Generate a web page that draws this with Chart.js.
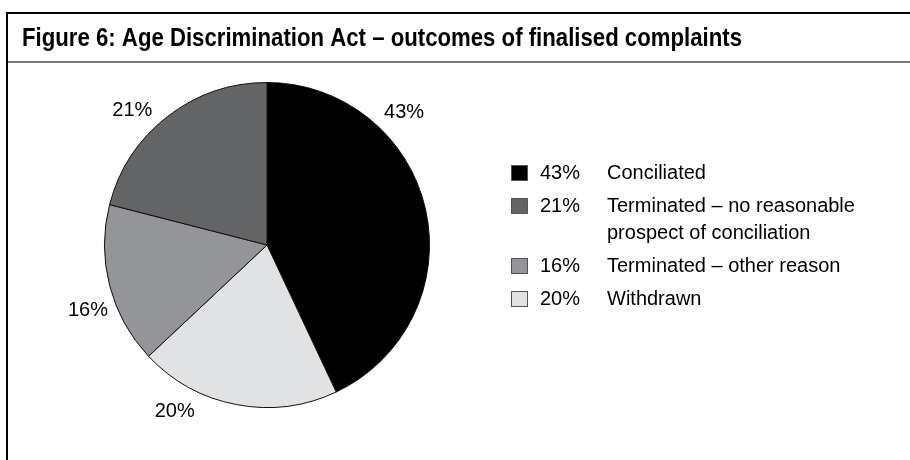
<!DOCTYPE html>
<html>
<head>
<meta charset="utf-8">
<script src="https://cdn.jsdelivr.net/npm/chart.js@4"></script>
<style>
  html, body { margin: 0; padding: 0; background: #fff; }
  #wrap { width: 910px; height: 460px; position: relative; }
</style>
</head>
<body>
<div id="wrap"><canvas id="pieChart" width="910" height="460"></canvas></div>
<script>
// slices in drawing order, clockwise from 12 o'clock
const categories = [
  "Conciliated",
  "Withdrawn",
  "Terminated – other reason",
  "Terminated – no reasonable prospect of conciliation"
];
const shares = [43, 20, 16, 21];
const sliceColors = ["#000000", "#e1e2e4", "#939598", "#636466"];

// legend rows: which slice, and how the label wraps
const legendOrder = [0, 3, 2, 1];
const legendLines = [
  ["Conciliated"],
  ["Terminated – no reasonable", "prospect of conciliation"],
  ["Terminated – other reason"],
  ["Withdrawn"]
];

// where each outside percentage label sits (degrees clockwise from top)
const labelAngles = [46, 209, 250, 315];

const TITLE = "Figure 6: Age Discrimination Act – outcomes of finalised complaints";
const BODY_FONT = "20px 'Liberation Sans', Arial, sans-serif";
const TITLE_FONT = "bold 26px 'Liberation Sans', Arial, sans-serif";
const TITLE_WIDTH = 720; // heading is set in a condensed cut, squeeze to fit

const framePlugin = {
  id: "frame",
  beforeDraw(chart) {
    const ctx = chart.ctx;
    ctx.save();
    ctx.fillStyle = "#fff";
    ctx.fillRect(0, 0, chart.width, chart.height);
    // box outline
    ctx.strokeStyle = "#000";
    ctx.lineWidth = 2;
    ctx.beginPath();
    ctx.moveTo(chart.width, 13);
    ctx.lineTo(7, 13);
    ctx.lineTo(7, chart.height);
    ctx.stroke();
    // rule under the heading
    ctx.strokeStyle = "#7a7a7a";
    ctx.lineWidth = 2;
    ctx.beginPath();
    ctx.moveTo(8, 62);
    ctx.lineTo(chart.width, 62);
    ctx.stroke();
    // heading
    ctx.fillStyle = "#000";
    ctx.font = TITLE_FONT;
    ctx.textBaseline = "middle";
    ctx.textAlign = "left";
    const sx = TITLE_WIDTH / ctx.measureText(TITLE).width;
    ctx.translate(22, 39);
    ctx.scale(sx, 1);
    ctx.fillText(TITLE, 0, 0);
    ctx.restore();
  }
};

const labelsPlugin = {
  id: "sliceLabels",
  afterDatasetsDraw(chart) {
    const ctx = chart.ctx;
    const arcs = chart.getDatasetMeta(0).data;
    ctx.save();
    ctx.font = BODY_FONT;
    ctx.fillStyle = "#000";
    ctx.textAlign = "center";
    ctx.textBaseline = "middle";
    arcs.forEach((arc, i) => {
      const a = labelAngles[i] * Math.PI / 180;
      const r = arc.outerRadius + 28;
      ctx.fillText(shares[i] + "%", arc.x + r * Math.sin(a), arc.y - r * Math.cos(a));
    });
    ctx.restore();
  }
};

const legendPlugin = {
  id: "sideLegend",
  afterDraw(chart) {
    const ctx = chart.ctx;
    ctx.save();
    ctx.font = BODY_FONT;
    ctx.textBaseline = "middle";
    ctx.textAlign = "left";
    let y = 173;
    legendOrder.forEach((idx, row) => {
      ctx.fillStyle = sliceColors[idx];
      ctx.fillRect(511, y - 8, 17, 16);
      ctx.strokeStyle = "#555";
      ctx.lineWidth = 1;
      ctx.strokeRect(511.5, y - 7.5, 16, 15);
      ctx.fillStyle = "#000";
      ctx.fillText(shares[idx] + "%", 540, y);
      legendLines[row].forEach((line, k) => {
        ctx.fillText(line, 607, y + k * 27);
      });
      y += 33 + (legendLines[row].length - 1) * 27;
    });
    ctx.restore();
  }
};

new Chart(document.getElementById("pieChart"), {
  type: "pie",
  data: {
    labels: categories,
    datasets: [{
      data: shares,
      backgroundColor: sliceColors,
      borderColor: "#111",
      borderWidth: 1
    }]
  },
  options: {
    responsive: false,
    animation: false,
    events: [],
    layout: { padding: { left: 104, top: 82, right: 480, bottom: 52 } },
    plugins: {
      legend: { display: false },
      title: { display: false },
      tooltip: { enabled: false }
    }
  },
  plugins: [framePlugin, labelsPlugin, legendPlugin]
});
</script>
</body>
</html>
